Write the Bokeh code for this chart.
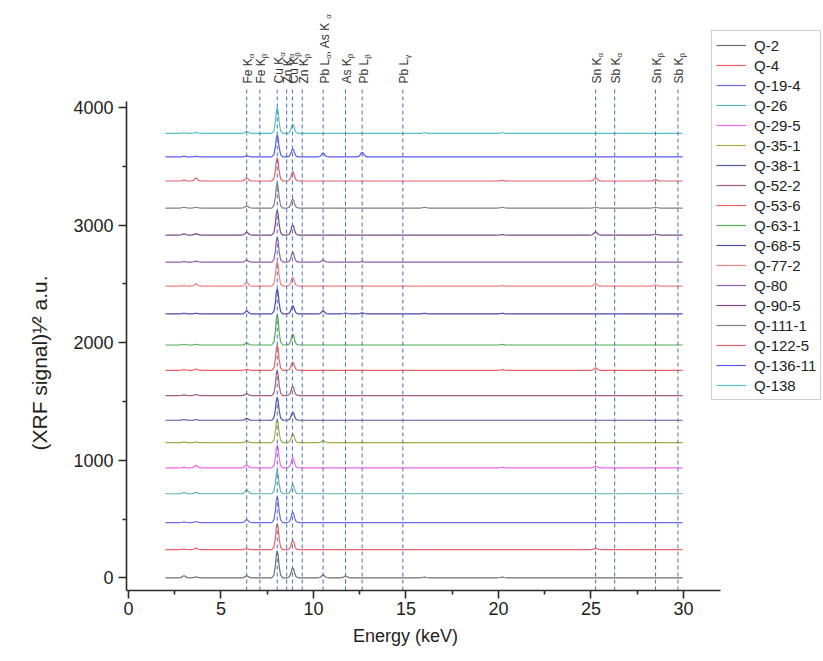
import math
from bokeh.plotting import figure
from bokeh.models import Range1d, Legend, LegendItem, Title, FixedTicker
from bokeh.core.properties import value
from bokeh.embed import file_html
from bokeh.resources import INLINE

# ---------------- data ----------------
samples = ["Q-2", "Q-4", "Q-19-4", "Q-26", "Q-29-5", "Q-35-1", "Q-38-1", "Q-52-2",
           "Q-53-6", "Q-63-1", "Q-68-5", "Q-77-2", "Q-80", "Q-90-5", "Q-111-1",
           "Q-122-5", "Q-136-11", "Q-138"]
offsets = [0, 240, 470, 715, 935, 1150, 1340, 1550, 1765, 1980, 2245, 2480,
           2685, 2915, 3145, 3375, 3580, 3780]
colors = ["#6e6e6e", "#f0606a", "#6a6ae8", "#5fb3b3", "#ee66ee", "#a8a84a",
          "#55559a", "#a0607a", "#f06060", "#55aa55", "#4a4ab0", "#f08080",
          "#9060a8", "#7a4a8a", "#808080", "#e06070", "#5a5af0", "#55c0c8"]

# peak heights above each baseline (a.u.), one value per sample
low_a = [17, 5, 5, 10, 5, 5, 5, 5, 5, 5, 5, 5, 5, 10, 5, 8, 5, 5]        # ~3.0 keV
low_b = [8, 12, 8, 12, 21, 5, 5, 8, 10, 5, 5, 20, 8, 12, 5, 25, 5, 8]     # ~3.65 keV
fe_ka = [17, 8, 25, 34, 25, 17, 17, 17, 8, 17, 25, 34, 17, 25, 17, 25, 8, 17]
cu_ka = [230, 221, 221, 196, 196, 200, 196, 213, 213, 255, 213, 210, 213, 213,
         213, 196, 187, 221]
cu_kb = [85, 77, 88, 77, 85, 77, 70, 77, 70, 94, 70, 77, 85, 85, 77, 80, 68, 77]
pb_la = [25, 0, 0, 0, 0, 17, 0, 0, 0, 0, 25, 0, 17, 0, 0, 0, 34, 0]
as_kb = [15, 0, 0, 0, 0, 0, 0, 0, 0, 0, 6, 0, 0, 0, 0, 0, 0, 0]
pb_lb = [0, 0, 0, 0, 0, 0, 0, 0, 0, 0, 8, 0, 5, 0, 0, 0, 40, 0]
bump_16 = [6, 0, 0, 0, 0, 0, 0, 0, 0, 0, 5, 0, 0, 0, 5, 0, 0, 6]
bump_20 = [6, 0, 0, 0, 5, 0, 0, 0, 5, 5, 5, 5, 0, 5, 5, 5, 0, 6]
sn_ka = [0, 10, 0, 0, 15, 0, 0, 0, 20, 0, 0, 23, 0, 28, 8, 28, 0, 0]
sn_kb = [0, 0, 0, 0, 0, 0, 0, 0, 0, 0, 0, 12, 0, 8, 5, 12, 0, 0]

peak_energies = [3.0, 3.65, 6.39, 8.04, 8.88, 10.52, 11.73, 12.63, 16.0, 20.2, 25.25, 28.49]
peak_heights = [low_a, low_b, fe_ka, cu_ka, cu_kb, pb_la, as_kb, pb_lb,
                bump_16, bump_20, sn_ka, sn_kb]
E_START, E_END = 2.0, 29.95
# typed peak profile (offset in keV, relative height)
PEAK_DX = [-0.30, -0.18, -0.10, -0.05, 0.0, 0.05, 0.10, 0.18, 0.30]
PEAK_SHAPE = [0.0, 0.10, 0.45, 0.85, 1.0, 0.85, 0.45, 0.10, 0.0]

# reference lines
line_energies = [6.39, 7.10, 8.04, 8.55, 8.86, 9.39, 10.52, 11.73, 12.63, 14.83,
                 25.25, 26.28, 28.49, 29.70]
line_labels = [
    [("Fe K", 0), ("α", 1)], [("Fe K", 0), ("β", 1)],
    [("Cu K", 0), ("α", 1)], [("Zn K", 0), ("α", 1)],
    [("Cu K", 0), ("β", 1)], [("Zn K", 0), ("β", 1)],
    [("Pb L", 0), ("α", 1), (" , As K", 0), ("α", 1)],
    [("As K", 0), ("β", 1)], [("Pb L", 0), ("β", 1)], [("Pb L", 0), ("γ", 1)],
    [("Sn K", 0), ("α", 1)], [("Sb K", 0), ("α", 1)],
    [("Sn K", 0), ("β", 1)], [("Sb K", 0), ("β", 1)],
]
xticks = [0, 5, 10, 15, 20, 25, 30]
xminor = [2.5, 7.5, 12.5, 17.5, 22.5, 27.5]
yticks = [0, 1000, 2000, 3000, 4000]
yminor = [500, 1500, 2500, 3500]
x_title = "Energy (keV)"
y_title = "(XRF signal)¹⁄² a.u."

# ---------------- layout ----------------
FONT = "Liberation Sans"
W, H = 823, 652
BL, BR, BT, BB = 126, 0, 8, 62
PX_PER_KEV = 18.5
X0 = -0.108
X1 = X0 + (W - BL - BR) / PX_PER_KEV
X_AXIS_END = 32.0
Y0, Y1 = -108, 4842
PX_PER_Y = (H - BT - BB) / (Y1 - Y0)

ARIAL = {' ': 0.278, ',': 0.278, 'A': 0.667, 'C': 0.722, 'F': 0.611, 'K': 0.667,
         'L': 0.556, 'P': 0.667, 'S': 0.667, 'Z': 0.611, 'b': 0.556, 'e': 0.556,
         'n': 0.556, 's': 0.5, 'u': 0.556, 'α': 0.578, 'β': 0.575, 'γ': 0.5,
         'E': 0.667, 'r': 0.333, 'g': 0.556, 'y': 0.5, '(': 0.333, ')': 0.333,
         'k': 0.5, 'V': 0.667}


def text_w(s, size):
    return sum(ARIAL.get(c, 0.556) for c in s) * size


p = figure(width=W, height=H, output_backend="svg", toolbar_location=None,
           x_range=Range1d(X0, X1), y_range=Range1d(Y0, Y1),
           min_border_left=BL, min_border_right=BR, min_border_top=BT,
           min_border_bottom=BB)
p.outline_line_color = None
p.grid.visible = False
p.background_fill_color = "white"
p.border_fill_color = "white"

# axes
for ax in (p.xaxis[0], p.yaxis[0]):
    ax.axis_line_color = "#2a2a2a"
    ax.axis_line_width = 1.6
    ax.major_tick_line_color = "#2a2a2a"
    ax.minor_tick_line_color = "#2a2a2a"
    ax.major_tick_line_width = 1.6
    ax.minor_tick_line_width = 1.6
    ax.major_tick_out = 8
    ax.major_tick_in = 0
    ax.minor_tick_out = 4
    ax.minor_tick_in = 0
    ax.major_label_text_font = FONT
    ax.major_label_text_font_size = "18px"
    ax.major_label_text_color = "#222222"
p.xaxis[0].ticker = FixedTicker(ticks=xticks, minor_ticks=xminor)
p.yaxis[0].ticker = FixedTicker(ticks=yticks, minor_ticks=yminor)
p.xaxis[0].major_label_standoff = 3
p.yaxis[0].major_label_standoff = 5
p.xaxis[0].bounds = (X0, X_AXIS_END)
p.yaxis[0].bounds = (Y0, 4050)

# spectra
items = []
for i, name in enumerate(samples):
    xs = [E_START]
    ys = [offsets[i]]
    for e, hs in zip(peak_energies, peak_heights):
        h = hs[i]
        if h <= 0:
            continue
        for dx, s in zip(PEAK_DX, PEAK_SHAPE):
            xs.append(e + dx)
            ys.append(offsets[i] + h * s)
    xs.append(E_END)
    ys.append(offsets[i])
    r = p.line(xs, ys, line_color=colors[i], line_width=1.2)
    items.append(LegendItem(label=name, renderers=[r]))

# dashed reference lines
LINE_TOP_PX = 86            # image row where the dashed lines start
p.segment(x0=line_energies, y0=[Y0] * len(line_energies),
          x1=line_energies, y1=[Y0 + (H - BB - LINE_TOP_PX) / PX_PER_Y] * len(line_energies),
          line_color="#4a6fb5", line_dash="4 3", line_width=1)

# top labels, composed of normal + subscript pieces
LABEL_BOTTOM_PX = 83
y_start = Y0 + (H - BB - LABEL_BOTTOM_PX) / PX_PER_Y
MAIN_FS, SUB_FS = 12, 8
mx, my, mt, sx, sy, st = [], [], [], [], [], []
for e, segs in zip(line_energies, line_labels):
    cur = y_start
    for txt, sub in segs:
        if sub:
            sx.append(e); sy.append(cur); st.append(txt)
            cur += text_w(txt, SUB_FS) / PX_PER_Y
        else:
            mx.append(e); my.append(cur); mt.append(txt)
            cur += text_w(txt, MAIN_FS) / PX_PER_Y
p.text(x=mx, y=my, text=mt, angle=math.pi / 2, text_align="left",
       text_baseline="alphabetic", x_offset=1.5, text_font=value(FONT),
       text_font_size=f"{MAIN_FS}px", text_color="#333333")
p.text(x=sx, y=sy, text=st, angle=math.pi / 2, text_align="left",
       text_baseline="alphabetic", x_offset=5, text_font=value(FONT),
       text_font_size=f"{SUB_FS}px", text_color="#333333")

# axis titles (as titles in the side panels, positioned along the axis)
XT_FS = 18
xt = Title(text=x_title, align="left", offset=405 - text_w(x_title, XT_FS) / 2 - BL,
           text_font=FONT, text_font_size=f"{XT_FS}px", text_font_style="normal",
           text_color="#222222", standoff=12)
p.add_layout(xt, "below")
yt = Title(text=y_title, align="left", offset=140,
           text_font=FONT, text_font_size="21px", text_font_style="normal",
           text_color="#222222", standoff=40)
p.add_layout(yt, "left")

# legend (inside the frame area, which reaches the right edge)
legend = Legend(items=items, location=(711 - BL, 190), orientation="vertical",
                label_text_font=FONT, label_text_font_size="15px",
                label_text_color="#222222", glyph_width=30, glyph_height=20,
                label_height=20, spacing=0, padding=4, label_standoff=8,
                border_line_color="#a0a0a0", border_line_width=1,
                background_fill_color="white", background_fill_alpha=1.0,
                margin=0)
p.add_layout(legend, "center")

open("out.html", "w").write(file_html(p, INLINE))
